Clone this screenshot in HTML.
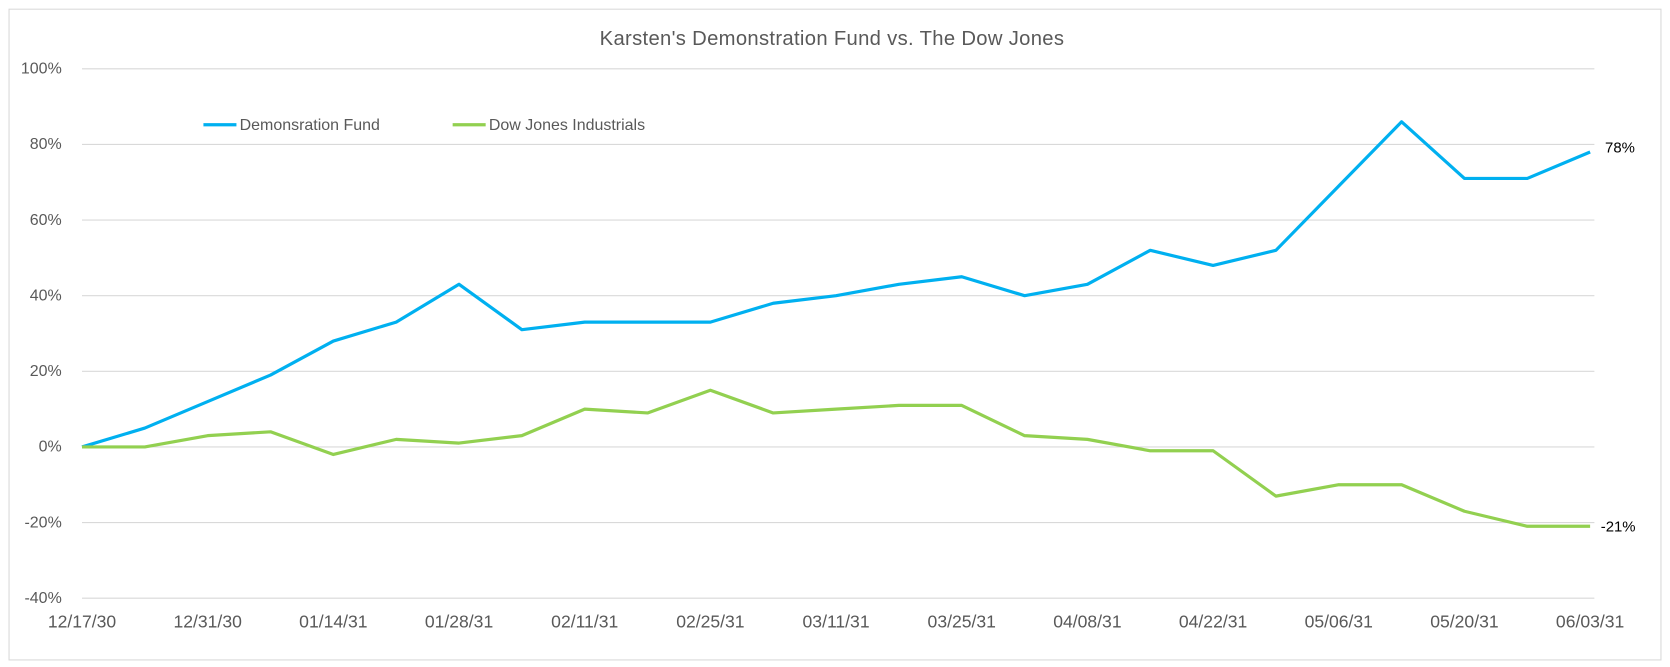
<!DOCTYPE html>
<html><head><meta charset="utf-8"><style>
body{margin:0;background:#fff;overflow:hidden;}
svg text{font-family:"Liberation Sans",sans-serif;}
</style></head><body>
<svg width="1670" height="667" viewBox="0 0 1568 626" xmlns="http://www.w3.org/2000/svg" style="display:block">
<rect x="0" y="0" width="1568" height="626" fill="#fff"/>
<rect x="8.5" y="8.5" width="1551" height="611" fill="none" stroke="#d9d9d9"/>
<text x="781" y="42" font-size="19" fill="#595959" text-anchor="middle" textLength="436">Karsten's Demonstration Fund vs. The Dow Jones</text>
<g stroke="#d9d9d9" stroke-width="1">
<line x1="77" x2="1497" y1="64.5" y2="64.5"/>
<line x1="77" x2="1497" y1="135.5" y2="135.5"/>
<line x1="77" x2="1497" y1="206.5" y2="206.5"/>
<line x1="77" x2="1497" y1="277.5" y2="277.5"/>
<line x1="77" x2="1497" y1="348.5" y2="348.5"/>
<line x1="77" x2="1497" y1="419.5" y2="419.5"/>
<line x1="77" x2="1497" y1="490.5" y2="490.5"/>
<line x1="77" x2="1497" y1="561.5" y2="561.5"/>
</g>
<g font-size="15" fill="#595959" text-anchor="end">
<text x="58" y="69">100%</text><text x="58" y="140">80%</text><text x="58" y="211">60%</text>
<text x="58" y="282">40%</text><text x="58" y="353">20%</text><text x="58" y="424">0%</text>
<text x="58" y="495">-20%</text><text x="58" y="566">-40%</text>
</g>
<g font-size="16.5" fill="#595959" text-anchor="middle">
<text x="77" y="589">12/17/30</text><text x="195" y="589">12/31/30</text><text x="313" y="589">01/14/31</text>
<text x="431" y="589">01/28/31</text><text x="549" y="589">02/11/31</text><text x="667" y="589">02/25/31</text>
<text x="785" y="589">03/11/31</text><text x="903" y="589">03/25/31</text><text x="1021" y="589">04/08/31</text>
<text x="1139" y="589">04/22/31</text><text x="1257" y="589">05/06/31</text><text x="1375" y="589">05/20/31</text>
<text x="1493" y="589">06/03/31</text>
</g>
<line x1="191" x2="222" y1="117" y2="117" stroke="#00b0f0" stroke-width="3"/>
<text x="225" y="122" font-size="15" fill="#595959">Demonsration Fund</text>
<line x1="425" x2="456" y1="117" y2="117" stroke="#92d050" stroke-width="3"/>
<text x="459" y="122" font-size="15" fill="#595959">Dow Jones Industrials</text>
<polyline fill="none" stroke="#00b0f0" stroke-width="3" stroke-linejoin="round" points="77,419.5 136,401.8 195,376.9 254,352 313,320.1 372,302.3 431,266.8 490,309.4 549,302.3 608,302.3 667,302.3 726,284.6 785,277.5 844,266.8 903,259.7 962,277.5 1021,266.8 1080,234.9 1139,249.1 1198,234.9 1257,174.5 1316,114.2 1375,167.4 1434,167.4 1493,142.6"/>
<polyline fill="none" stroke="#92d050" stroke-width="3" stroke-linejoin="round" points="77,419.5 136,419.5 195,408.9 254,405.3 313,426.6 372,412.4 431,415.9 490,408.9 549,384 608,387.6 667,366.3 726,387.6 785,384 844,380.5 903,380.5 962,408.9 1021,412.4 1080,423.1 1139,423.1 1198,465.7 1257,455 1316,455 1375,479.9 1434,494 1493,494"/>
<text x="1507" y="143" font-size="14" fill="#000">78%</text>
<text x="1503" y="499" font-size="14" fill="#000">-21%</text>
</svg>
</body></html>
